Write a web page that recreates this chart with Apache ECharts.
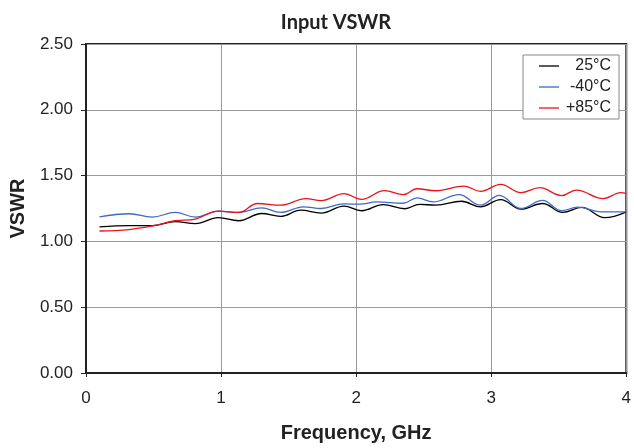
<!DOCTYPE html>
<html>
<head>
<meta charset="utf-8">
<script src="https://cdn.jsdelivr.net/npm/echarts@6/dist/echarts.min.js"></script>
<style>
  html, body { margin: 0; padding: 0; background: #fff; }
  #chart { width: 634px; height: 448px; }
</style>
</head>
<body>
<div id="chart"></div>
<script>
// frequency (GHz), VSWR
const temp25 = [
  [0.10, 1.11], [0.32, 1.12], [0.49, 1.12], [0.66, 1.15], [0.81, 1.135], [0.98, 1.18],
  [1.13, 1.157], [1.30, 1.212], [1.44, 1.19], [1.59, 1.237], [1.74, 1.215], [1.91, 1.268],
  [2.04, 1.233], [2.20, 1.28], [2.36, 1.248], [2.47, 1.282], [2.59, 1.275], [2.78, 1.305],
  [2.92, 1.263], [3.07, 1.318], [3.22, 1.245], [3.38, 1.288], [3.53, 1.22], [3.67, 1.258],
  [3.84, 1.18], [4.00, 1.225]
]
const tempMinus40 = [
  [0.10, 1.187], [0.32, 1.21], [0.49, 1.185], [0.66, 1.22], [0.81, 1.185], [0.98, 1.23],
  [1.13, 1.22], [1.30, 1.255], [1.44, 1.22], [1.61, 1.263], [1.74, 1.25], [1.91, 1.285],
  [2.03, 1.283], [2.15, 1.30], [2.35, 1.29], [2.45, 1.33], [2.57, 1.30], [2.76, 1.355],
  [2.92, 1.275], [3.06, 1.35], [3.22, 1.25], [3.38, 1.312], [3.52, 1.233], [3.64, 1.26],
  [3.81, 1.225], [4.00, 1.225]
]
const temp85 = [
  [0.10, 1.079], [0.32, 1.09], [0.49, 1.117], [0.66, 1.157], [0.81, 1.17], [0.98, 1.23],
  [1.13, 1.22], [1.27, 1.288], [1.44, 1.275], [1.63, 1.325], [1.74, 1.31], [1.91, 1.363],
  [2.04, 1.32], [2.21, 1.386], [2.35, 1.355], [2.45, 1.40], [2.59, 1.385], [2.80, 1.42],
  [2.92, 1.38], [3.07, 1.433], [3.22, 1.37], [3.36, 1.408], [3.52, 1.348], [3.63, 1.39],
  [3.83, 1.325], [3.96, 1.37], [4.00, 1.365]
]
const seriesNames = ['25°C', '-40°C', '+85°C']
const seriesColors = ['#000000', '#3f6ac4', '#e8141c']

const chart = echarts.init(document.getElementById('chart'))

const makeLine = (name, data, color) => ({
  name: name,
  type: 'line',
  data: data,
  smooth: 0.4,
  showSymbol: false,
  itemStyle: { color: color },
  lineStyle: { color: color, width: 1.3 },
  z: 3
})

const option = {
  animation: false,
  title: {
    text: 'Input VSWR',
    left: 331,
    top: 8,
    textAlign: 'center',
    textStyle: { fontFamily: 'Lato', fontWeight: 'bold', fontSize: 20, color: '#222' }
  },
  legend: {
    data: seriesNames.map(n => ({ name: n, icon: 'rect' })),
    orient: 'vertical',
    right: 15,
    top: 55,
    itemWidth: 20,
    itemHeight: 1.3,
    itemGap: 5,
    padding: [3, 8, 3, 16],
    backgroundColor: '#fff',
    borderColor: '#888',
    borderWidth: 1,
    formatter: name => '{a|' + name + '}',
    textStyle: {
      rich: {
        a: { fontFamily: 'Liberation Sans', fontSize: 16, lineHeight: 17, color: '#222', width: 47, align: 'right' }
      }
    }
  },
  grid: {
    left: 86,
    right: 2,
    top: 44,
    bottom: 72,
    show: true,
    borderColor: '#222',
    borderWidth: 2
  },
  xAxis: {
    type: 'value',
    min: 0,
    max: 4,
    interval: 1,
    name: 'Frequency, GHz',
    nameLocation: 'middle',
    nameGap: 50,
    nameTextStyle: { fontFamily: 'Liberation Sans', fontWeight: 'bold', fontSize: 20, color: '#222' },
    axisLine: { lineStyle: { color: '#222', width: 2 } },
    axisTick: { length: 4, lineStyle: { color: '#222' } },
    axisLabel: { fontFamily: 'Liberation Sans', fontSize: 17, color: '#222', margin: 17 },
    splitLine: { lineStyle: { color: '#999', width: 1 } }
  },
  yAxis: {
    type: 'value',
    min: 0,
    max: 2.5,
    interval: 0.5,
    name: 'VSWR',
    nameLocation: 'middle',
    nameGap: 58,
    nameTextStyle: { fontFamily: 'Liberation Sans', fontWeight: 'bold', fontSize: 20, color: '#222' },
    axisLine: { show: true, lineStyle: { color: '#222', width: 2 } },
    axisTick: { show: true, length: 5, lineStyle: { color: '#222' } },
    axisLabel: {
      fontFamily: 'Liberation Sans', fontSize: 17, color: '#222', margin: 13,
      formatter: v => v.toFixed(2)
    },
    splitLine: { lineStyle: { color: '#999', width: 1 } }
  },
  series: [
    makeLine(seriesNames[0], temp25, seriesColors[0]),
    makeLine(seriesNames[1], tempMinus40, seriesColors[1]),
    makeLine(seriesNames[2], temp85, seriesColors[2])
  ]
}

chart.setOption(option)
</script>
</body>
</html>
